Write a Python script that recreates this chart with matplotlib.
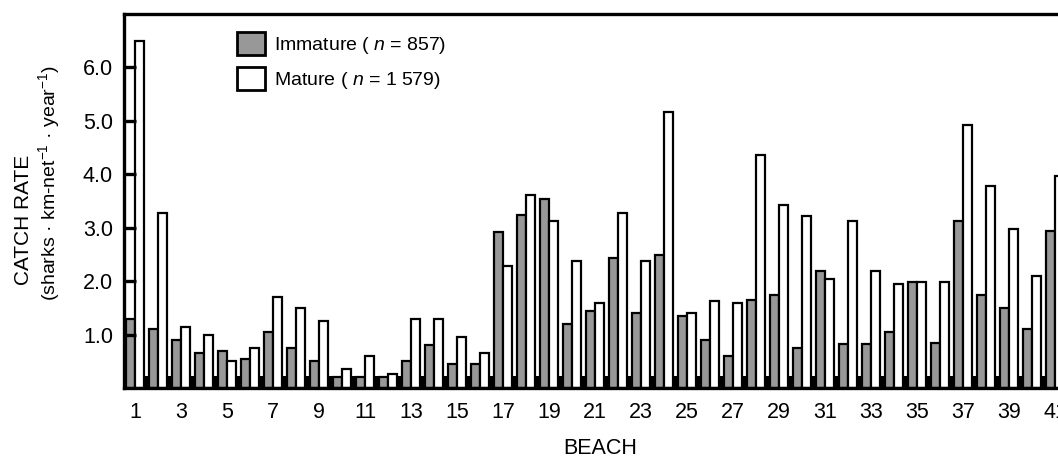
"""
Catch rate of immature and mature sharks per beach (grouped bar chart).
"""
import numpy as np
import matplotlib
matplotlib.use('Agg')
import matplotlib.pyplot as plt
from matplotlib.patches import Patch

plt.rcParams['font.family'] = ['Liberation Sans', 'DejaVu Sans']
plt.rcParams['mathtext.fontset'] = 'custom'
plt.rcParams['mathtext.rm'] = 'Liberation Sans'
plt.rcParams['mathtext.it'] = 'Liberation Sans:italic'

# data
beaches = np.arange(1, 42)
immature = [1.30, 1.10, 0.90, 0.66, 0.69, 0.55, 1.05, 0.75, 0.50, 0.21,
            0.21, 0.21, 0.50, 0.80, 0.45, 0.45, 2.92, 3.23, 3.53, 1.20,
            1.45, 2.44, 1.40, 2.49, 1.35, 0.90, 0.60, 1.64, 1.74, 0.74,
            2.19, 0.83, 0.83, 1.04, 1.99, 0.85, 3.13, 1.74, 1.49, 1.10,
            2.93]
mature = [6.49, 3.28, 1.15, 1.00, 0.50, 0.75, 1.70, 1.49, 1.25, 0.35,
          0.60, 0.26, 1.30, 1.30, 0.95, 0.65, 2.28, 3.62, 3.13, 2.38,
          1.60, 3.28, 2.38, 5.16, 1.40, 1.63, 1.60, 4.37, 3.42, 3.22,
          2.04, 3.13, 2.19, 1.94, 1.99, 1.99, 4.92, 3.78, 2.98, 2.09,
          3.97]
y_ticks = [1.0, 2.0, 3.0, 4.0, 5.0, 6.0]
x_ticks = list(range(1, 42, 2))
label_imm = 'Immature ( $n$ = 857)'
label_mat = 'Mature ( $n$ = 1 579)'

GRAY = '#989898'
W = 0.39

fig = plt.figure(figsize=(10.58, 4.59), dpi=100)
ax = fig.add_axes([0.1172, 0.1547, 0.906, 0.8148])

ax.bar(beaches - W / 2, immature, width=W, color=GRAY, edgecolor='black',
       linewidth=1.6)
ax.bar(beaches + W / 2, mature, width=W, color='white', edgecolor='black',
       linewidth=1.6)

ax.set_xlim(0.52, 42.2)
ax.set_ylim(0, 7.0)

ax.set_xticks(x_ticks)
ax.set_xticklabels([str(b) for b in x_ticks])
ax.set_xticks(np.arange(1.5, 41.0, 1.0), minor=True)
ax.tick_params(axis='x', which='major', length=0, pad=10, labelsize=15.5)
ax.tick_params(axis='x', which='minor', direction='in', length=9,
               width=3, color='black')

ax.set_yticks(y_ticks)
ax.set_yticklabels([f'{v:.1f}' for v in y_ticks])
ax.tick_params(axis='y', direction='in', length=8.5, width=2.4, pad=8,
               labelsize=15.5)

for side in ['left', 'bottom', 'top']:
    ax.spines[side].set_linewidth(2.4)
ax.spines['right'].set_visible(False)

# y label: two lines set as separate texts
fig.text(24 / 1058, 1 - 220 / 459, 'CATCH RATE', rotation=90,
         ha='center', va='center', fontsize=15)
fig.text(49 / 1058, 1 - 183 / 459,
         '(sharks · km-net$^{-1}$ · year$^{-1}$)', rotation=90,
         ha='center', va='center', fontsize=14)
fig.text(600 / 1058, 1 - 449 / 459, 'BEACH', ha='center', va='center',
         fontsize=15.5)

handles = [Patch(facecolor=GRAY, edgecolor='black', linewidth=2),
           Patch(facecolor='white', edgecolor='black', linewidth=2)]
ax.legend(handles, [label_imm, label_mat], loc='upper left',
          bbox_to_anchor=(237 / 1058, 1 - 32 / 459),
          bbox_transform=fig.transFigure, frameon=False, fontsize=14,
          borderpad=0, borderaxespad=0, handlelength=1.44,
          handleheight=1.44, handletextpad=0.46, labelspacing=0.55)

fig.savefig('out.png', dpi=100)
